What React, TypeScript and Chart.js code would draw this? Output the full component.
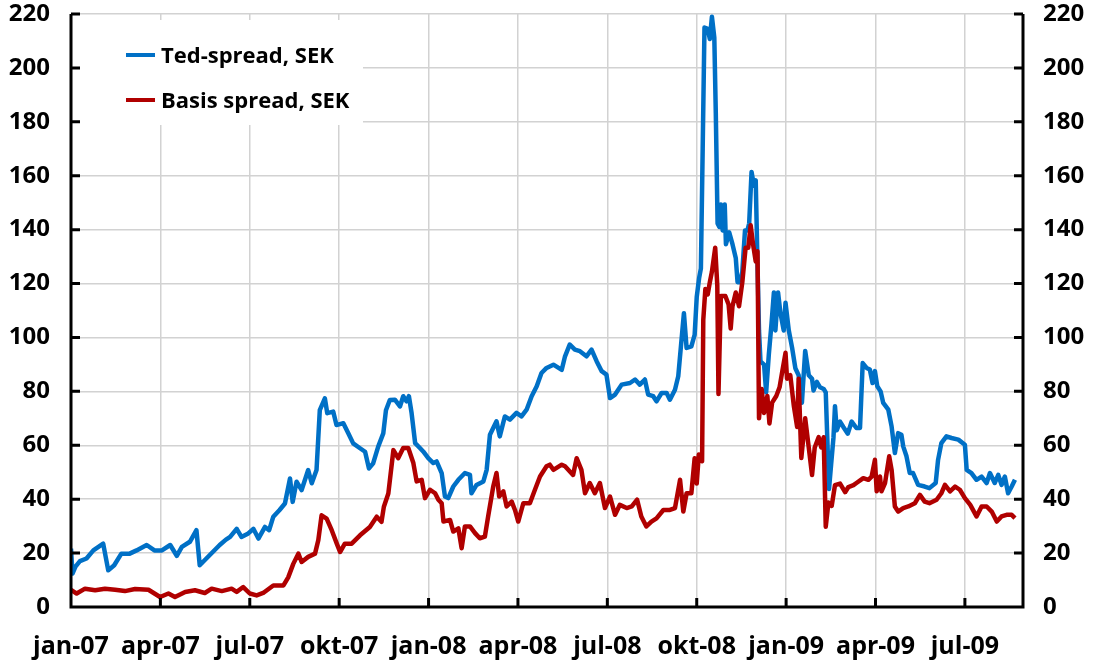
import React, { useEffect, useRef } from 'react';
import { Chart, registerables } from 'chart.js';

Chart.register(...registerables);

// x positions are months since jan-07 (fractional)
const quarterLabels = ['jan-07', 'apr-07', 'jul-07', 'okt-07', 'jan-08', 'apr-08', 'jul-08', 'okt-08', 'jan-09', 'apr-09', 'jul-09'];

const tedMonths = [
  0, 0.05, 0.15, 0.3, 0.52, 0.75, 1.08, 1.25, 1.45, 1.69, 1.97, 2.2, 2.54, 2.8, 3.05, 3.33, 3.55, 3.72, 3.99, 4.21,
  4.32, 4.65, 4.99, 5.2, 5.34, 5.56, 5.72, 5.95, 6.12, 6.29, 6.51, 6.65, 6.79, 7.0, 7.18, 7.35, 7.44, 7.57, 7.74, 7.96,
  8.08, 8.24, 8.35, 8.52, 8.6, 8.8, 8.91, 9.14, 9.31, 9.47, 9.7, 9.87, 10.0, 10.14, 10.31, 10.48, 10.57, 10.7, 10.87, 11.04,
  11.15, 11.26, 11.34, 11.43, 11.55, 11.71, 11.82, 11.99, 12.16, 12.27, 12.44, 12.55, 12.66, 12.83, 13.0, 13.22, 13.39, 13.44, 13.61, 13.84,
  13.95, 14.06, 14.28, 14.39, 14.56, 14.73, 14.95, 15.12, 15.29, 15.46, 15.63, 15.79, 15.96, 16.19, 16.47, 16.58, 16.74, 16.91, 17.08, 17.3,
  17.47, 17.64, 17.81, 17.97, 18.09, 18.26, 18.48, 18.76, 18.93, 19.09, 19.26, 19.37, 19.54, 19.65, 19.82, 19.99, 20.1, 20.27, 20.38, 20.49,
  20.57, 20.66, 20.82, 20.93, 21.0, 21.08, 21.14, 21.2, 21.26, 21.37, 21.44, 21.51, 21.59, 21.64, 21.7, 21.76, 21.81, 21.87, 21.94, 21.98,
  22.09, 22.2, 22.31, 22.37, 22.45, 22.53, 22.62, 22.7, 22.76, 22.84, 22.92, 22.98, 23.03, 23.09, 23.14, 23.26, 23.33, 23.42, 23.51, 23.59,
  23.64, 23.73, 23.81, 23.92, 23.98, 24.09, 24.2, 24.31, 24.42, 24.53, 24.64, 24.76, 24.87, 24.92, 25.03, 25.14, 25.26, 25.33, 25.4, 25.44,
  25.51, 25.59, 25.64, 25.7, 25.81, 25.92, 26.07, 26.2, 26.36, 26.48, 26.57, 26.7, 26.81, 26.9, 26.98, 27.06, 27.17, 27.26, 27.43, 27.54,
  27.65, 27.76, 27.87, 27.93, 28.04, 28.15, 28.26, 28.43, 28.65, 28.81, 29.02, 29.1, 29.21, 29.38, 29.55, 29.78, 30.0, 30.06, 30.22, 30.39,
  30.56, 30.73, 30.84, 31.0, 31.12, 31.23, 31.34, 31.45, 31.57, 31.68,
];
const tedValues = [
  21.7, 12.4, 15, 17, 18, 21, 23.5, 13.6, 15.5, 19.8, 19.8, 21, 23, 21, 21, 23, 19, 22.3, 24.2, 28.5,
  15.5, 19.2, 23, 25, 26, 29, 26, 27.3, 29, 25.4, 29.7, 28.5, 33.5, 36, 38.4, 47.7, 39, 46.5, 43.4, 50.8,
  45.9, 50.8, 73, 77.4, 71.9, 72.5, 67.5, 68.2, 64.4, 60.7, 58.9, 57.6, 51.4, 53.3, 59.5, 64.4, 73, 76.8, 76.9, 74.4,
  78.2, 76.3, 78.2, 72, 60.8, 59, 57.7, 55.2, 53.4, 54, 49.7, 41, 40.4, 44.7, 47.2, 49.7, 49, 42.2, 45.3, 46.6,
  50.9, 63.9, 68.9, 63.3, 70.7, 69.5, 72, 70.7, 73.2, 78.2, 81.9, 86.8, 88.7, 89.9, 88, 93, 97.4, 95.5, 94.9, 93,
  95.5, 91.2, 87.5, 86.2, 77.5, 78.8, 82.5, 83.1, 84.4, 82.5, 84.4, 78.8, 78.2, 76.3, 79.4, 79.4, 76.9, 80.6, 85.6, 99.2,
  109, 96.1, 96.7, 101, 115, 122, 125.6, 170, 215, 214.5, 210.7, 219, 211.3, 183.2, 142.3, 141, 149.3, 139.7, 149.3, 134.6,
  139, 134.6, 129.5, 120.5, 120.5, 124.4, 139.7, 139.7, 142.3, 161.4, 156.3, 158.3, 132, 102.6, 91.1, 89.9, 79.6, 93.7, 105.2, 116.7,
  102.6, 116.7, 109, 102.6, 112.9, 102.6, 96.2, 88.6, 86, 75.8, 95, 86, 84.7, 80.3, 83.5, 81.5, 80.9, 79.6, 56.6, 43.8,
  52.8, 63, 74.5, 65.6, 68.8, 66.8, 64.3, 68.8, 66.4, 66.4, 90.5, 88.7, 88.1, 83.1, 87.5, 81.9, 80, 75.7, 73.2, 67,
  57.1, 64.5, 63.9, 59.6, 55.9, 49.7, 49.7, 45.3, 44.7, 44.1, 46, 54.6, 60.8, 63.3, 62.7, 62.1, 60.2, 50.9, 49.7, 47.2,
  48.4, 46, 49.7, 46, 49, 45.3, 48.4, 42.2, 44.7, 47.2,
];

const basisMonths = [
  0, 0.19, 0.47, 0.81, 1.14, 1.48, 1.81, 2.15, 2.6, 2.99, 3.27, 3.49, 3.83, 4.16, 4.49, 4.72, 5.06, 5.39, 5.56, 5.78,
  6.0, 6.23, 6.45, 6.79, 7.13, 7.29, 7.46, 7.63, 7.74, 7.96, 8.19, 8.3, 8.41, 8.58, 8.75, 8.92, 9.03, 9.19, 9.42, 9.7,
  10.03, 10.26, 10.42, 10.5, 10.65, 10.82, 10.98, 11.15, 11.32, 11.49, 11.6, 11.77, 11.88, 12.05, 12.22, 12.33, 12.44, 12.5, 12.72, 12.83,
  13.0, 13.11, 13.22, 13.39, 13.56, 13.72, 13.89, 14.0, 14.17, 14.28, 14.37, 14.51, 14.62, 14.79, 14.9, 15.01, 15.18, 15.4, 15.57, 15.74,
  15.96, 16.07, 16.19, 16.47, 16.58, 16.85, 16.97, 17.13, 17.25, 17.41, 17.58, 17.75, 17.92, 18.09, 18.26, 18.42, 18.65, 18.82, 19.0, 19.14,
  19.31, 19.48, 19.65, 19.88, 20.1, 20.27, 20.44, 20.55, 20.66, 20.82, 20.93, 21.0, 21.07, 21.18, 21.22, 21.29, 21.37, 21.44, 21.51, 21.62,
  21.69, 21.73, 21.81, 21.96, 22.07, 22.14, 22.2, 22.31, 22.42, 22.53, 22.64, 22.73, 22.81, 22.89, 22.98, 23.04, 23.09, 23.18, 23.26, 23.37,
  23.44, 23.53, 23.67, 23.78, 23.87, 23.98, 24.03, 24.14, 24.26, 24.37, 24.42, 24.51, 24.64, 24.76, 24.87, 24.96, 25.09, 25.18, 25.26, 25.33,
  25.42, 25.53, 25.64, 25.81, 25.98, 26.09, 26.26, 26.36, 26.59, 26.76, 26.87, 26.98, 27.04, 27.15, 27.2, 27.32, 27.46, 27.54, 27.65, 27.76,
  27.93, 28.1, 28.32, 28.49, 28.65, 28.81, 29.05, 29.21, 29.33, 29.5, 29.67, 29.83, 30.0, 30.18, 30.39, 30.56, 30.73, 30.9, 31.07, 31.23,
  31.4, 31.57, 31.68,
];
const basisValues = [
  6.4, 5, 6.8, 6.2, 6.8, 6.4, 5.9, 6.7, 6.4, 3.7, 5, 3.7, 5.6, 6.2, 5.2, 6.8, 5.9, 6.8, 5.6, 7.4,
  5, 4.3, 5.2, 8, 8, 11, 16, 19.8, 16.7, 18.6, 19.8, 24.8, 34, 32.8, 28.5, 23.5, 20.4, 23.5, 23.5, 26.6,
  29.7, 33.5, 31.6, 37.2, 42.1, 58.2, 55.2, 59, 59, 53.4, 46.6, 47.2, 40.4, 43.5, 42.2, 39.8, 38.5, 31.7, 32.3, 28,
  29.2, 21.8, 29.9, 29.9, 27.4, 25.5, 26.1, 33.6, 44.7, 49.7, 41, 42.9, 37.3, 39.1, 36, 31.7, 38.5, 38.5, 43.5, 48.4,
  52.2, 52.8, 50.9, 52.8, 52.2, 49, 55.2, 50.9, 42.2, 46, 42.2, 46, 36.7, 41, 34.2, 37.9, 36.7, 37.3, 39.8, 33.6,
  29.9, 31.7, 32.9, 36, 36, 36.7, 47.2, 35.4, 42.2, 42.2, 55.2, 45.8, 56.6, 54.1, 106.5, 118, 116, 120.5, 124.4, 133.3,
  119.3, 79, 115.4, 115.4, 112.2, 103.3, 111.6, 116.7, 111.6, 120.5, 133.3, 133.3, 141.6, 134.6, 128.2, 132, 70, 80.9, 72, 78.3,
  68.1, 75.8, 78.3, 81.5, 87.3, 94.3, 84.7, 86, 74.5, 66.8, 84.7, 55.3, 70, 59.2, 49, 59.2, 63, 59.2, 63, 29.8,
  38.8, 37.5, 45.2, 45.8, 42.6, 44.5, 45.2, 46, 47.8, 47.2, 48.4, 54.6, 42.9, 48.4, 42.9, 46, 55.9, 50.9, 37.3, 35.4,
  36.7, 37.3, 38.5, 41.6, 39.1, 38.5, 39.8, 42.2, 45.3, 42.9, 44.7, 43.5, 40.4, 37.9, 33.6, 37.3, 37.3, 35.4, 31.7, 33.6,
  34.2, 34.2, 33,
];

const seriesNames = ['Ted-spread, SEK', 'Basis spread, SEK'];
const seriesColors = ['#0070C6', '#B00000'];

const FONT = "'Open Sans', 'Noto Sans', sans-serif";

export default function App() {
  const ref = useRef<HTMLCanvasElement>(null);

  useEffect(() => {
    if (!ref.current) return;

    const overlay = {
      id: 'overlay',
      beforeDatasetsDraw(chart: any) {
        const ctx = chart.ctx;
        ctx.save();
        ctx.fillStyle = '#ffffff';
        ctx.fillRect(80, 20, 283, 105);
        const rows = [55, 100];
        rows.forEach((yy, i) => {
          ctx.strokeStyle = seriesColors[i];
          ctx.lineWidth = 4;
          ctx.beginPath();
          ctx.moveTo(126, yy);
          ctx.lineTo(155, yy);
          ctx.stroke();
          ctx.fillStyle = '#000';
          ctx.font = `bold 22px ${FONT}`;
          ctx.textBaseline = 'middle';
          ctx.textAlign = 'left';
          ctx.fillText(seriesNames[i], 161, yy + 2);
        });
        ctx.restore();
      },
      afterDatasetsDraw(chart: any) {
        const ctx = chart.ctx;
        const { left, right, top, bottom } = chart.chartArea;
        const xs = chart.scales.x;
        const ys = chart.scales.y;
        ctx.save();
        ctx.strokeStyle = '#000';
        ctx.lineWidth = 3;
        ctx.lineCap = 'butt';
        ctx.beginPath();
        ctx.moveTo(left, top);
        ctx.lineTo(left, bottom + 1.5);
        ctx.moveTo(left - 1.5, bottom);
        ctx.lineTo(right + 1.5, bottom);
        ctx.moveTo(right, top);
        ctx.lineTo(right, bottom + 1.5);
        ys.ticks.forEach((t: any) => {
          const py = ys.getPixelForValue(t.value);
          ctx.moveTo(left, py);
          ctx.lineTo(left + 9, py);
          ctx.moveTo(right - 9, py);
          ctx.lineTo(right, py);
        });
        xs.ticks.forEach((t: any) => {
          const px = xs.getPixelForValue(t.value);
          ctx.moveTo(px, bottom);
          ctx.lineTo(px, bottom - 9);
        });
        ctx.stroke();
        ctx.restore();
      },
    };

    const tickFont = { family: FONT, size: 24, weight: 'bold' as const };
    const zeroVPad = (s: any, w: number) => {
      s.width = w;
      s.paddingTop = 0;
      s.paddingBottom = 0;
    };

    const chart = new Chart(ref.current, {
      type: 'line',
      data: {
        datasets: [
          {
            label: seriesNames[0],
            data: tedMonths.map((m, i) => ({ x: m, y: tedValues[i] })),
            borderColor: seriesColors[0],
            borderWidth: 4.5,
            pointRadius: 0,
            tension: 0,
            borderJoinStyle: 'round',
            order: 2,
          },
          {
            label: seriesNames[1],
            data: basisMonths.map((m, i) => ({ x: m, y: basisValues[i] })),
            borderColor: seriesColors[1],
            borderWidth: 4.5,
            pointRadius: 0,
            tension: 0,
            borderJoinStyle: 'round',
            order: 1,
          },
        ],
      },
      options: {
        responsive: false,
        animation: false,
        devicePixelRatio: 1,
        layout: { padding: { top: 14, left: 0, right: 0, bottom: 0 } },
        plugins: { legend: { display: false }, tooltip: { enabled: false } },
        scales: {
          x: {
            type: 'linear',
            min: 0,
            max: 31.95,
            afterFit: (s: any) => {
              s.height = 55;
              s.paddingLeft = 0;
              s.paddingRight = 0;
            },
            border: { display: false },
            grid: { color: '#d2d2d2', lineWidth: 1.5, drawTicks: false },
            ticks: {
              stepSize: 3,
              includeBounds: false,
              autoSkip: false,
              maxRotation: 0,
              minRotation: 0,
              padding: 25,
              color: '#000',
              font: { family: FONT, size: 25, weight: 'bold' },
              callback: (v: any) => {
                const idx = Math.round(Number(v) / 3);
                return Math.abs(Number(v) - idx * 3) < 1e-6 ? quarterLabels[idx] ?? '' : '';
              },
            },
          },
          y: {
            position: 'left',
            min: 0,
            max: 220,
            afterFit: (s: any) => zeroVPad(s, 71),
            border: { display: false },
            grid: { color: '#d2d2d2', lineWidth: 1.5, drawTicks: false },
            ticks: { stepSize: 20, padding: 21, color: '#000', font: tickFont },
          },
          y2: {
            position: 'right',
            min: 0,
            max: 220,
            afterFit: (s: any) => zeroVPad(s, 70),
            border: { display: false },
            grid: { display: false, drawTicks: false },
            ticks: { stepSize: 20, padding: 20, color: '#000', font: tickFont },
          },
        },
      },
      plugins: [overlay],
    });

    return () => chart.destroy();
  }, []);

  return (
    <div style={{ position: 'absolute', left: 0, top: 0, width: 1093, height: 662, background: '#fff' }}>
      <canvas ref={ref} width={1093} height={662} style={{ display: 'block' }} />
    </div>
  );
}
